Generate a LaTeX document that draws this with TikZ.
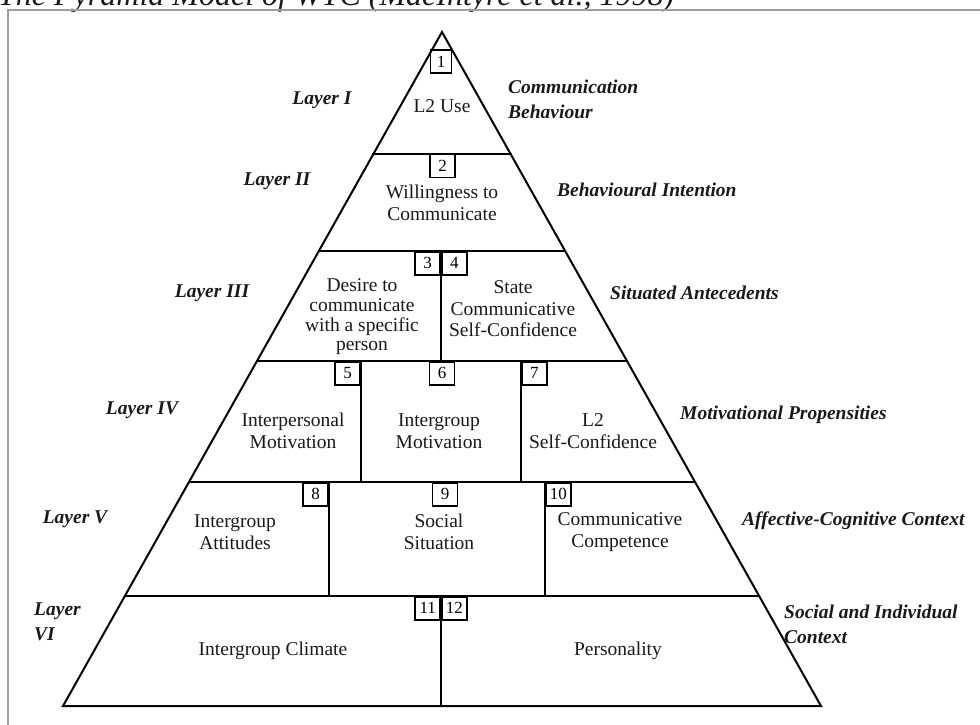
\documentclass[tikz,border=0pt]{standalone}
\usepackage{fontspec}
\setmainfont{Liberation Serif}
\begin{document}
\begin{tikzpicture}[x=1pt,y=-1pt,
  layerline/.style={line width=2pt, line join=miter, line cap=rect},
  numbox/.style={draw, line width=1.6pt, minimum width=25pt, minimum height=23pt, inner sep=0pt, font=\fontsize{17}{17}\selectfont},
  boxtxt/.style={align=center, inner sep=0pt, font=\fontsize{19.5}{21.5}\selectfont, text=black!90},
  lbl/.style={align=left, inner sep=0pt, font=\fontsize{19.5}{25}\selectfont\bfseries\itshape, text=black!90},
  framestyle/.style={draw=gray!75, line width=1.3pt}
]
\useasboundingbox (0,0) rectangle (980,725);
\clip (0,0) rectangle (980,725);

% title (cut off at top)
\node[anchor=base west, inner sep=0pt, font=\fontsize{32}{32}\selectfont\itshape, text=black!90] (title) at (-2,6) {The Pyramid Model of WTC (MacIntyre et al., 1998)};

% frame
\coordinate (fbl) at (8,726);
\coordinate (ftl) at (8,10);
\coordinate (ftr) at (981,10);
\draw[framestyle] (fbl) -- (ftl) -- (ftr);

% pyramid
\coordinate (A) at (442,32);
\coordinate (BL) at (63,706);
\coordinate (BR) at (821,706);
\coordinate (l1) at (373.4,154); \coordinate (r1) at (510.6,154);
\coordinate (l2) at (318.9,251); \coordinate (r2) at (565.1,251);
\coordinate (l3) at (257.0,361); \coordinate (r3) at (627.0,361);
\coordinate (l4) at (188.9,482); \coordinate (r4) at (695.1,482);
\coordinate (l5) at (124.9,596); \coordinate (r5) at (759.1,596);
\draw[layerline] (A) -- (BR) -- (BL) -- cycle;
\foreach \i in {1,...,5} \draw[layerline] (l\i) -- (r\i);

% vertical dividers
\coordinate (v3t) at (441,251); \coordinate (v3b) at (441,361);
\coordinate (v4at) at (361,361); \coordinate (v4ab) at (361,482);
\coordinate (v4bt) at (521,361); \coordinate (v4bb) at (521,482);
\coordinate (v5at) at (329,482); \coordinate (v5ab) at (329,596);
\coordinate (v5bt) at (545,482); \coordinate (v5bb) at (545,596);
\coordinate (v6t) at (441,596); \coordinate (v6b) at (441,706);
\draw[layerline] (v3t) -- (v3b);
\draw[layerline] (v4at) -- (v4ab);
\draw[layerline] (v4bt) -- (v4bb);
\draw[layerline] (v5at) -- (v5ab);
\draw[layerline] (v5bt) -- (v5bb);
\draw[layerline] (v6t) -- (v6b);

% number boxes
\node[numbox, minimum width=21pt] (b1) at (441,61.5) {1};
\node[numbox] (b2) at (442.5,166) {2};
\node[numbox, anchor=north east] (b3) at (441,251) {3};
\node[numbox, anchor=north west] (b4) at (441,251) {4};
\node[numbox, anchor=north east] (b5) at (361,361) {5};
\node[numbox, anchor=north] (b6) at (442,361) {6};
\node[numbox, anchor=north west] (b7) at (521,361) {7};
\node[numbox, anchor=north east] (b8) at (329,482) {8};
\node[numbox, anchor=north] (b9) at (445,482) {9};
\node[numbox, anchor=north west] (b10) at (545,482) {10};
\node[numbox, anchor=north east] (b11) at (441,596) {11};
\node[numbox, anchor=north west] (b12) at (441,596) {12};

% texts inside
\node[boxtxt] (t1) at (442,106) {L2 Use};
\node[boxtxt] (t2) at (442,203) {Willingness to\\Communicate};
\node[boxtxt, font=\fontsize{19.5}{19.7}\selectfont] (t3) at (362,317) {Desire to\\communicate\\with a specific\\person};
\node[boxtxt] (t4) at (513,309) {State\\Communicative\\Self-Confidence};
\node[boxtxt] (t5) at (293,431) {Interpersonal\\Motivation};
\node[boxtxt] (t6) at (439,431) {Intergroup\\Motivation};
\node[boxtxt] (t7) at (593,431) {L2\\Self-Confidence};
\node[boxtxt] (t8) at (235,532) {Intergroup\\Attitudes};
\node[boxtxt] (t9) at (439,532) {Social\\Situation};
\node[boxtxt] (t10) at (620,532) {Communicative\\Competence};
\node[boxtxt] (t11) at (273,651) {Intergroup Climate};
\node[boxtxt] (t12) at (618,651) {Personality};

% left labels
\node[lbl] (L1) at (322,100) {Layer I};
\node[lbl] (L2) at (277,181) {Layer II};
\node[lbl] (L3) at (212,293) {Layer III};
\node[lbl] (L4) at (142,410) {Layer IV};
\node[lbl] (L5) at (75,519) {Layer V};
\node[lbl, anchor=west] (L6) at (34,622) {Layer\\VI};

% right labels
\node[lbl, anchor=west] (R1) at (508,99) {Communication\\Behaviour};
\node[lbl, anchor=west] (R2) at (557,190) {Behavioural Intention};
\node[lbl, anchor=west] (R3) at (610,293) {Situated Antecedents};
\node[lbl, anchor=west] (R4) at (680,415) {Motivational Propensities};
\node[lbl, anchor=west] (R5) at (742,521) {Affective-Cognitive Context};
\node[lbl, anchor=west] (R6) at (784,624) {Social and Individual\\Context};
\end{tikzpicture}
\end{document}
